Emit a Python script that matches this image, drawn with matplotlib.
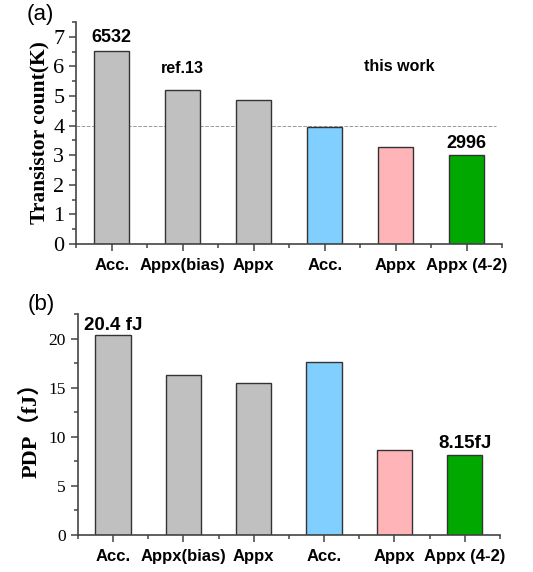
import matplotlib.pyplot as plt
from matplotlib.ticker import MultipleLocator

# data
categories = ['Acc.', 'Appx(bias)', 'Appx', 'Acc.', 'Appx', 'Appx (4-2)']
transistors_k = [6.532, 5.21, 4.88, 3.94, 3.27, 2.996]
pdp_fj = [20.4, 16.3, 15.5, 17.6, 8.67, 8.15]
bar_colors = ['#C0C0C0', '#C0C0C0', '#C0C0C0', '#80CFFF', '#FFB5B8', '#00A800']

serif = ['Liberation Serif', 'Noto Sans CJK SC']
sans = ['Liberation Sans', 'DejaVu Sans']

fig = plt.figure(figsize=(5.33, 5.72), dpi=100)
ax1 = fig.add_axes([0.143, 0.5734, 0.799, 0.388])
ax2 = fig.add_axes([0.146, 0.0647, 0.792, 0.386])

x = list(range(len(categories)))


def style_axis(ax, ymax, major, minor, tick_fs):
    ax.set_xlim(-0.5, 5.5)
    ax.set_ylim(0, ymax)
    for s in ['top', 'right']:
        ax.spines[s].set_visible(False)
    for s in ['left', 'bottom']:
        ax.spines[s].set_color('#444444')
        ax.spines[s].set_linewidth(1.2)
    ax.set_xticks(x)
    ax.set_xticklabels(categories, family=sans, fontweight='bold', fontsize=12)
    ax.xaxis.set_minor_locator(MultipleLocator(1, offset=0.5))
    ax.yaxis.set_major_locator(MultipleLocator(major))
    ax.yaxis.set_minor_locator(MultipleLocator(minor))
    ax.tick_params(which='both', direction='out', color='#444444', width=1.1)
    ax.tick_params(which='major', length=5)
    ax.tick_params(which='minor', length=3)
    ax.tick_params(axis='x', pad=5)
    for lab in ax.get_yticklabels():
        lab.set_family(serif)
        lab.set_fontsize(tick_fs)


# (a) transistor count
ax1.bar(x, transistors_k, width=0.5, color=bar_colors, edgecolor='#333333', linewidth=1.0, zorder=2)
style_axis(ax1, 7.5, 1, 0.5, 16)
ax1.axhline(4, xmin=0, xmax=0.985, color='#999999', linestyle='--', linewidth=0.7, zorder=1)
ax1.set_ylabel('Transistor count(K)', family=serif, fontweight='bold', fontsize=15.5, labelpad=3)
ax1.text(x[0], transistors_k[0] + 0.15, '6532', ha='center', va='bottom',
         family=sans, fontweight='bold', fontsize=13)
ax1.text(x[5], transistors_k[5] + 0.1, '2996', ha='center', va='bottom',
         family=sans, fontweight='bold', fontsize=13)
ax1.text(1, 5.93, 'ref.13', ha='center', va='center', family=sans, fontweight='bold', fontsize=11.5)
ax1.text(4.05, 6.0, 'this work', ha='center', va='center', family=sans, fontweight='bold', fontsize=11.5)
fig.text(0.075, 0.975, '(a)', ha='center', va='center', family=sans, fontsize=16)

# (b) PDP
ax2.bar(x, pdp_fj, width=0.5, color=bar_colors, edgecolor='#333333', linewidth=1.0, zorder=2)
style_axis(ax2, 22.5, 5, 2.5, 12.5)
ax2.set_ylabel('PDP（fJ）', family=serif, fontweight='bold', fontsize=16, labelpad=5)
ax2.text(x[0], pdp_fj[0] + 0.1, '20.4 fJ', ha='center', va='bottom',
         family=sans, fontweight='bold', fontsize=13.5)
ax2.text(x[5], pdp_fj[5] + 0.3, '8.15fJ', ha='center', va='bottom',
         family=sans, fontweight='bold', fontsize=13.5)
fig.text(0.078, 0.467, '(b)', ha='center', va='center', family=sans, fontsize=16)

fig.savefig('out.png', dpi=100)
